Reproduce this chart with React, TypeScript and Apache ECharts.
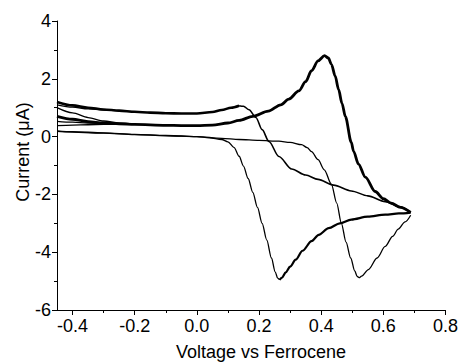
import React, { useEffect, useRef } from 'react';
import * as echarts from 'echarts';

const FONT = '"Liberation Sans", Arial, Helvetica, sans-serif';

// Axis ticks
const xMin = -0.45;
const xMax = 0.8;
const xTicks = [-0.4, -0.2, 0.0, 0.2, 0.4, 0.6, 0.8];
const xMinorTicks = [-0.3, -0.1, 0.1, 0.3, 0.5, 0.7];
const yMin = -6;
const yMax = 4;
const yStep = 2;

// Loop (a): return scan, upper band (left part up to the small bump)
const aReturnUpper: number[][] = [
  [-0.45, 1.2], [-0.4, 1.08], [-0.35, 1.0], [-0.3, 0.94], [-0.25, 0.9], [-0.2, 0.86],
  [-0.15, 0.83], [-0.1, 0.81], [-0.05, 0.8], [0.0, 0.8], [0.05, 0.85], [0.08, 0.92],
  [0.11, 1.0], [0.136, 1.07],
];
// extra scan in upper band
const aReturnUpper2: number[][] = [
  [-0.45, 1.1], [-0.4, 1.02], [-0.35, 0.96], [-0.3, 0.92], [-0.25, 0.89], [-0.2, 0.86],
];
// Loop (a): return scan after the bump, down to the vertex
const aReturnLower: number[][] = [
  [0.136, 1.07], [0.15, 1.05], [0.168, 0.93], [0.19, 0.66], [0.21, 0.24], [0.232, -0.17],
  [0.264, -0.69], [0.305, -1.12], [0.35, -1.33], [0.39, -1.48], [0.44, -1.68],
  [0.497, -1.88], [0.55, -2.05], [0.606, -2.25], [0.65, -2.42], [0.688, -2.62],
];
// Loop (a): cathodic scan with peak (a)
const aCathodic: number[][] = [
  [-0.45, 0.2], [-0.4, 0.17], [-0.3, 0.13], [-0.2, 0.08], [-0.1, 0.04], [-0.05, 0.02],
  [0.0, 0.0], [0.04, -0.04], [0.08, -0.1], [0.1, -0.18], [0.12, -0.38], [0.136, -0.68],
  [0.15, -1.02], [0.165, -1.45], [0.18, -1.93], [0.195, -2.45], [0.21, -3.0],
  [0.225, -3.58], [0.24, -4.2], [0.252, -4.68], [0.26, -4.9], [0.266, -4.96],
];
const aCathodicRise: number[][] = [
  [0.266, -4.96], [0.274, -4.88], [0.286, -4.7], [0.3, -4.5], [0.318, -4.26],
  [0.34, -3.95], [0.369, -3.62], [0.392, -3.4], [0.424, -3.17], [0.46, -3.0],
  [0.497, -2.87], [0.55, -2.77], [0.606, -2.7], [0.65, -2.66], [0.688, -2.63],
];
// Loop (b): anodic scan with peak near 0.41 V
const bAnodic: number[][] = [
  [-0.45, 0.7], [-0.4, 0.6], [-0.35, 0.52], [-0.3, 0.47], [-0.25, 0.44], [-0.2, 0.42],
  [-0.1, 0.39], [-0.05, 0.38], [0.0, 0.38], [0.05, 0.4], [0.1, 0.47], [0.136, 0.56],
  [0.18, 0.7], [0.23, 0.88], [0.27, 1.1], [0.296, 1.3], [0.328, 1.58], [0.35, 1.9],
  [0.369, 2.28], [0.39, 2.62], [0.411, 2.8], [0.423, 2.72], [0.433, 2.5], [0.445, 2.1],
  [0.456, 1.63], [0.467, 1.15], [0.478, 0.69], [0.497, -0.2], [0.504, -0.5],
  [0.52, -0.95], [0.542, -1.4], [0.574, -1.9], [0.6, -2.15], [0.625, -2.3],
  [0.655, -2.45], [0.688, -2.62],
];
// extra scans at the start of loop (b)
const bScan2: number[][] = [
  [-0.45, 1.0], [-0.4, 0.82], [-0.35, 0.66], [-0.3, 0.54], [-0.25, 0.47], [-0.2, 0.43],
];
const bScan3: number[][] = [
  [-0.45, 0.53], [-0.4, 0.5], [-0.35, 0.47], [-0.3, 0.45], [-0.25, 0.43],
];
const bScan4: number[][] = [
  [-0.45, 0.38], [-0.4, 0.4], [-0.35, 0.41], [-0.3, 0.42], [-0.25, 0.42],
];
// Loop (b): cathodic scan with peak (b)
const bCathodic: number[][] = [
  [-0.45, 0.18], [-0.3, 0.12], [-0.2, 0.07], [-0.1, 0.03], [0.0, 0.0], [0.08, -0.06],
  [0.136, -0.1], [0.2, -0.13], [0.264, -0.16], [0.3, -0.2], [0.337, -0.28],
  [0.355, -0.38], [0.369, -0.52], [0.39, -0.8], [0.41, -1.15], [0.433, -1.65],
  [0.45, -2.3], [0.465, -3.0], [0.48, -3.65], [0.495, -4.2], [0.508, -4.65],
  [0.516, -4.84], [0.522, -4.88], [0.53, -4.83], [0.552, -4.6], [0.58, -4.2], [0.606, -3.8],
  [0.63, -3.45], [0.648, -3.2], [0.67, -2.95], [0.688, -2.72],
];

const annotations = [
  { text: '(a)', x: 0.248, y: -5.5 },
  { text: '(b)', x: 0.509, y: -5.4 },
];

const xName = 'Voltage vs Ferrocene';
const yName = 'Current (μA)';

function line(data: number[][], width: number) {
  return {
    type: 'line',
    data,
    symbol: 'none',
    smooth: 0.3,
    smoothMonotone: 'x',
    silent: true,
    xAxisIndex: 0,
    yAxisIndex: 0,
    lineStyle: { color: '#000', width },
    z: 3,
  };
}

export default function App() {
  const ref = useRef<HTMLDivElement>(null);
  useEffect(() => {
    document.body.style.margin = '0';
    const chart = echarts.init(ref.current!, null, { renderer: 'svg' });
    const option: any = {
      animation: false,
      backgroundColor: '#fff',
      grid: { left: 57, right: 14, top: 21, bottom: 52, containLabel: false },
      xAxis: [
        {
          type: 'value',
          min: xMin,
          max: xMax,
          position: 'bottom',
          axisLine: { show: true, onZero: false, lineStyle: { color: '#000', width: 1 } },
          axisTick: { show: true, customValues: xTicks, length: 5, inside: false, lineStyle: { color: '#000', width: 1 } },
          axisLabel: {
            show: true,
            customValues: xTicks,
            margin: 7,
            color: '#000',
            fontSize: 18,
            fontFamily: FONT,
            formatter: (v: number) => v.toFixed(1),
          },
          splitLine: { show: false },
        },
        {
          type: 'value',
          min: xMin,
          max: xMax,
          position: 'bottom',
          gridIndex: 0,
          axisLine: { show: false, onZero: false },
          axisTick: { show: true, customValues: xMinorTicks, length: 3, lineStyle: { color: '#000', width: 1 } },
          axisLabel: { show: false },
          splitLine: { show: false },
        },
      ],
      yAxis: {
        type: 'value',
        min: yMin,
        max: yMax,
        interval: yStep,
        position: 'left',
        axisLine: { show: true, onZero: false, lineStyle: { color: '#000', width: 1 } },
        axisTick: { show: true, length: 5, lineStyle: { color: '#000', width: 1 } },
        minorTick: { show: true, splitNumber: 2, length: 3, lineStyle: { color: '#000', width: 1 } },
        axisLabel: { color: '#000', fontSize: 18, fontFamily: FONT, margin: 6 },
        splitLine: { show: false },
        minorSplitLine: { show: false },
      },
      graphic: [
        {
          type: 'text',
          x: 23,
          y: 152,
          rotation: Math.PI / 2,
          style: { text: yName, fontSize: 18, fontFamily: FONT, fill: '#000', align: 'center', verticalAlign: 'middle' },
        },
        {
          type: 'text',
          x: 261,
          y: 352,
          style: { text: xName, fontSize: 18, fontFamily: FONT, fill: '#000', align: 'center', verticalAlign: 'middle' },
        },
      ],
      series: [
        line(aReturnUpper, 2.6),
        line(aReturnUpper2, 1.3),
        line(aReturnLower, 1.6),
        line(aCathodic, 1.3),
        line(aCathodicRise, 2.2),
        line(bAnodic, 2.8),
        line(bScan2, 1.3),
        line(bScan3, 1.3),
        line(bScan4, 1.3),
        line(bCathodic, 1.3),
        {
          type: 'scatter',
          silent: true,
          symbolSize: 1,
          itemStyle: { opacity: 0 },
          data: annotations.map((a) => ({ value: [a.x, a.y], name: a.text })),
          label: {
            show: true,
            position: 'inside',
            formatter: (p: any) => p.name,
            color: '#000',
            fontSize: 18,
            fontFamily: FONT,
          },
        },
      ],
    };
    chart.setOption(option);
    return () => chart.dispose();
  }, []);
  return <div ref={ref} style={{ width: 461, height: 362 }} />;
}
